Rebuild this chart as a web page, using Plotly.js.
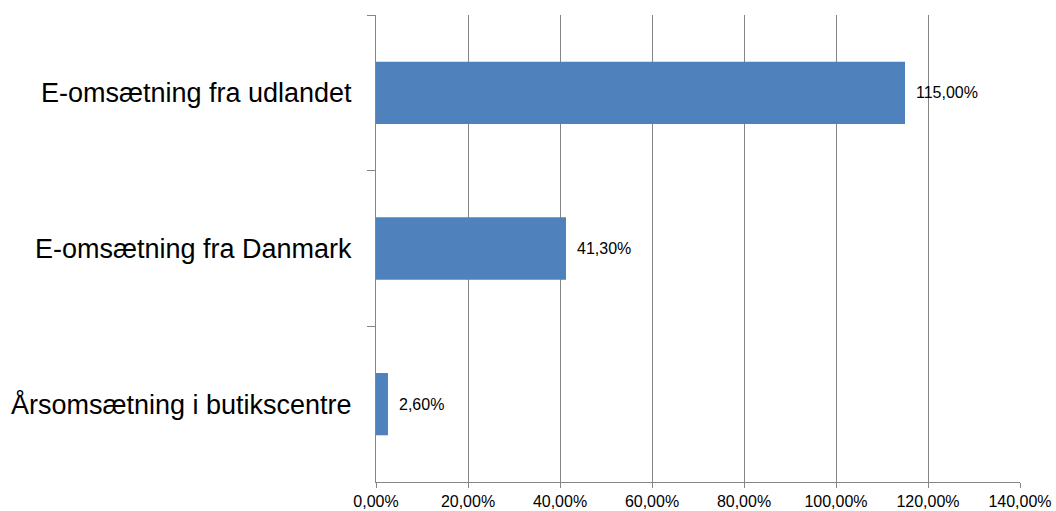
<!DOCTYPE html>
<html><head><meta charset="utf-8">
<script src="https://cdn.plot.ly/plotly-3.0.1.min.js"></script>
<style>html,body{margin:0;padding:0;background:#fff}#chart{width:1056px;height:511px}</style>
</head><body><div id="chart"></div>
<script>
const categories = ["E-omsætning fra udlandet", "E-omsætning fra Danmark", "Årsomsætning i butikscentre"];
const values = [1.15, 0.413, 0.026];
const valueLabels = ["115,00%", "41,30%", "2,60%"];
const xTickVals = [0, 0.2, 0.4, 0.6, 0.8, 1.0, 1.2, 1.4];

const FONT = 'Liberation Sans, Arial, sans-serif';
const trace = {
  type: 'bar', orientation: 'h',
  x: values, y: categories,
  marker: {color: '#4F81BD'},
  hoverinfo: 'none'
};
const annotations = values.map((v, i) => ({
  x: v, y: categories[i], xref: 'x', yref: 'y',
  text: valueLabels[i], showarrow: false,
  xanchor: 'left', yanchor: 'middle', xshift: 9,
  font: {family: FONT, size: 16, color: '#000'}
}));
const layout = {
  width: 1056, height: 511,
  margin: {l: 376, r: 36, t: 15, b: 29},
  paper_bgcolor: '#fff', plot_bgcolor: '#fff',
  bargap: 0.6,
  separators: ',.',
  font: {family: FONT, color: '#000'},
  showlegend: false,
  annotations: annotations,
  xaxis: {
    range: [0, 1.4], tickvals: xTickVals, tickformat: '.2%',
    showgrid: true, gridcolor: '#868686', gridwidth: 1,
    zeroline: false, showline: true, linecolor: '#868686', linewidth: 1,
    ticks: 'outside', ticklen: 5, tickcolor: '#868686',
    tickfont: {size: 16, family: FONT, color: '#000'},
    fixedrange: true
  },
  yaxis: {
    autorange: 'reversed', type: 'category',
    showline: true, linecolor: '#868686', linewidth: 1,
    ticks: 'outside', ticklen: 8, tickcolor: '#868686', tickson: 'boundaries',
    ticklabelstandoff: 18,
    tickfont: {size: 27, family: FONT, color: '#000'},
    showgrid: false, zeroline: false, fixedrange: true
  }
};
Plotly.newPlot('chart', [trace], layout, {displayModeBar: false, staticPlot: true});
</script></body></html>
